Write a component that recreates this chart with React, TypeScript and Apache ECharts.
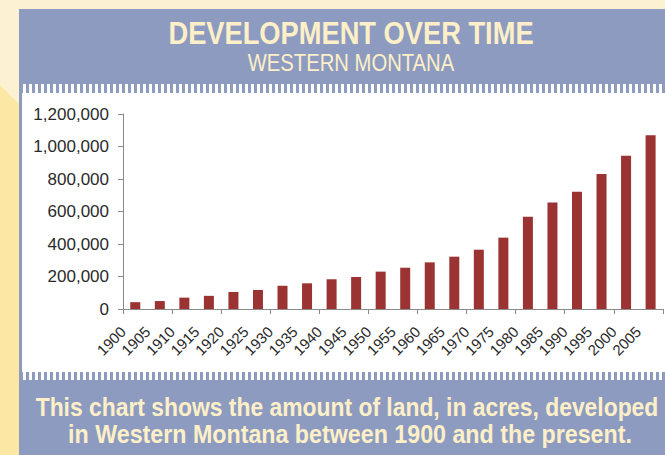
import React, { useEffect, useRef } from "react";
import * as echarts from "echarts";

const years = [
  "1900", "1905", "1910", "1915", "1920", "1925", "1930", "1935", "1940", "1945", "1950",
  "1955", "1960", "1965", "1970", "1975", "1980", "1985", "1990", "1995", "2000", "2005",
];
const acresDeveloped = [
  42000, 49000, 70000, 81000, 105000, 117000, 143000, 158000, 183000, 197000, 230000,
  254000, 287000, 322000, 365000, 439000, 568000, 656000, 722000, 831000, 943000, 1069000,
];
const yMin = 0;
const yMax = 1200000;
const yStep = 200000;

const titleText = "DEVELOPMENT OVER TIME";
const subtitleText = "WESTERN MONTANA";
const captionLines = [
  "This chart shows the amount of land, in acres, developed",
  "in Western Montana between 1900 and the present.",
];

const BLUE = "#8e9bc0";
const CREAM = "#fdf0c8";
const BG_CREAM = "#fdf1d4";
const YELLOW = "#fce8a4";
const BAR = "#9a3331";
const FONT = "'Liberation Sans', Arial, Helvetica, sans-serif";

function teeth(y0: number, h: number) {
  const out: any[] = [];
  for (let x = 23; x < 665; x += 6) {
    out.push({
      type: "rect",
      z: -5,
      shape: { x, y: y0, width: 3, height: h },
      style: { fill: "#ffffff" },
      silent: true,
    });
  }
  return out;
}

export default function App() {
  const ref = useRef<HTMLDivElement>(null);
  useEffect(() => {
    if (!ref.current) return;
    const chart = echarts.init(ref.current, null, { renderer: "svg" });
    const labelData = [...years, ""];
    chart.setOption({
      animation: false,
      backgroundColor: BG_CREAM,
      textStyle: { fontFamily: FONT },
      grid: { left: 123, right: -6, top: 114, bottom: 146, containLabel: false },
      xAxis: [
        {
          type: "category",
          data: years,
          boundaryGap: true,
          axisLine: { show: true, lineStyle: { color: "#8a8a8a", width: 1 } },
          axisTick: { show: true, length: 5, lineStyle: { color: "#8a8a8a" } },
          axisLabel: { show: false },
          splitLine: { show: false },
        },
        {
          type: "category",
          data: labelData,
          boundaryGap: false,
          position: "bottom",
          axisLine: { show: false },
          axisTick: { show: false },
          axisLabel: {
            show: true,
            interval: 0,
            rotate: 45,
            margin: 20,
            fontSize: 15,
            color: "#2a2a2a",
            fontFamily: FONT,
          },
          splitLine: { show: false },
        },
      ],
      yAxis: {
        type: "value",
        min: yMin,
        max: yMax,
        interval: yStep,
        axisLine: { show: true, lineStyle: { color: "#8a8a8a", width: 1 } },
        axisTick: { show: true, length: 5, lineStyle: { color: "#8a8a8a" } },
        splitLine: { show: false },
        axisLabel: {
          margin: 14,
          fontSize: 17,
          color: "#2a2a2a",
          fontFamily: FONT,
          formatter: (v: number) => v.toLocaleString("en-US"),
        },
      },
      series: [
        {
          type: "bar",
          data: acresDeveloped,
          xAxisIndex: 0,
          barWidth: 10,
          itemStyle: { color: BAR },
        },
      ],
      graphic: [
        {
          type: "polygon",
          z: -20,
          silent: true,
          shape: { points: [[0, 85], [19, 104], [19, 455], [0, 455]] },
          style: { fill: YELLOW },
        },
        {
          type: "rect",
          z: -20,
          silent: true,
          shape: { x: 19, y: 9, width: 660, height: 460 },
          style: { fill: BLUE },
        },
        {
          type: "rect",
          z: -10,
          silent: true,
          shape: { x: 22, y: 93, width: 650, height: 279 },
          style: { fill: "#ffffff" },
        },
        ...teeth(84, 10),
        ...teeth(371, 9),
        {
          type: "text",
          z: 10,
          silent: true,
          x: 351,
          y: 33,
          scaleX: 0.88,
          style: {
            text: titleText,
            textAlign: "center",
            textVerticalAlign: "middle",
            fontFamily: FONT,
            fontWeight: "bold",
            fontSize: 31,
            fill: CREAM,
          },
        },
        {
          type: "text",
          z: 10,
          silent: true,
          x: 351,
          y: 63,
          scaleX: 0.88,
          style: {
            text: subtitleText,
            textAlign: "center",
            textVerticalAlign: "middle",
            fontFamily: FONT,
            fontSize: 23,
            fill: CREAM,
          },
        },
        {
          type: "text",
          z: 10,
          silent: true,
          x: 347,
          y: 407,
          scaleX: 0.915,
          style: {
            text: captionLines[0],
            textAlign: "center",
            textVerticalAlign: "middle",
            fontFamily: FONT,
            fontWeight: "bold",
            fontSize: 25,
            fill: CREAM,
          },
        },
        {
          type: "text",
          z: 10,
          silent: true,
          x: 350,
          y: 434,
          scaleX: 0.93,
          style: {
            text: captionLines[1],
            textAlign: "center",
            textVerticalAlign: "middle",
            fontFamily: FONT,
            fontWeight: "bold",
            fontSize: 25,
            fill: CREAM,
          },
        },
      ],
    });
    return () => chart.dispose();
  }, []);
  return (
    <div
      ref={ref}
      style={{ position: "absolute", left: 0, top: 0, width: 665, height: 455, overflow: "hidden" }}
    />
  );
}
